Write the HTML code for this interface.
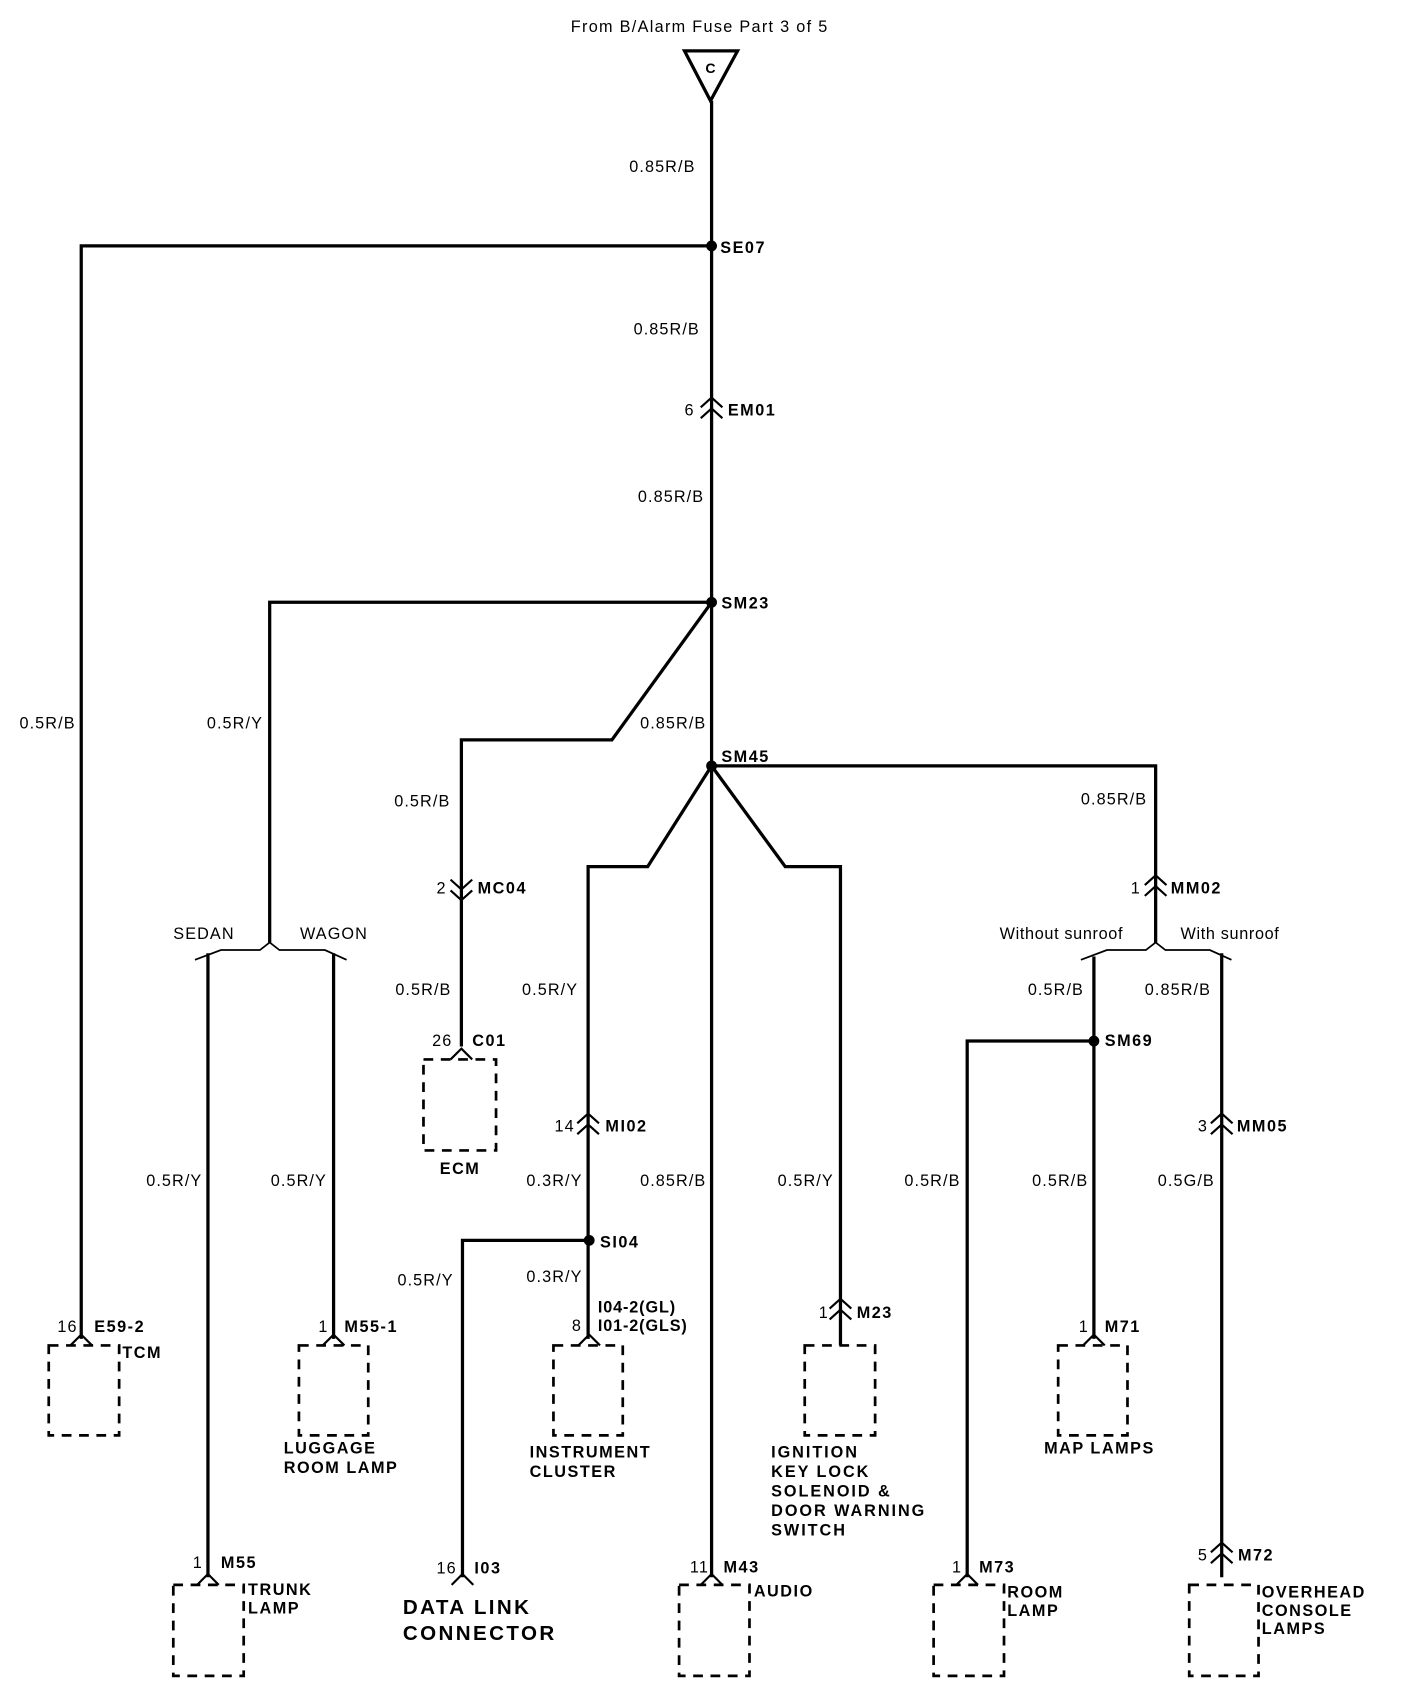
<!DOCTYPE html>
<html><head><meta charset="utf-8"><style>
html,body{margin:0;padding:0;background:#fff;width:1408px;height:1704px;overflow:hidden}
svg{display:block}
text{font-family:"Liberation Sans",sans-serif;font-size:15px;fill:#000;dominant-baseline:central;letter-spacing:1px}
.b{font-weight:bold;letter-spacing:1.4px}
.w{fill:none;stroke:#000;stroke-width:3}
.t{fill:none;stroke:#000;stroke-width:1.6}
.d{fill:none;stroke:#000;stroke-width:2.5;stroke-dasharray:9,7}
</style></head><body>
<svg width="1408" height="1704" viewBox="0 0 1300 1573" preserveAspectRatio="none" xmlns="http://www.w3.org/2000/svg">
<text x="527" y="25" style="font-size:15px;letter-spacing:1.2px">From B/Alarm Fuse  Part 3 of 5</text>
<polygon points="632,47 681,47 656,93" fill="none" stroke="#000" stroke-width="3"/>
<text x="656" y="63" class="b" text-anchor="middle" style="font-size:13px;letter-spacing:0">C</text>

<path class="w" d="M657 93 V1456"/>
<path class="w" d="M657 227 H75 V1236"/>
<path class="w" d="M657 556 H249 V870"/>
<path class="w" d="M657 556 L565 683 H426 V966"/>
<path class="w" d="M657 707 H1067 V870"/>
<path class="w" d="M657 707 L598 800 H543 V1236"/>
<path class="w" d="M657 707 L725 800 H776 V1242"/>
<path class="t" d="M249 870 L240 877 H204 L180 886 M249 870 L258 877 H300 L320 886"/>
<path class="w" d="M192 880 V1456 M308 880 V1236"/>
<path class="t" d="M1067 870 L1058 877 H1022 L998 886 M1067 870 L1076 877 H1117 L1137 886"/>
<path class="w" d="M1010 883 V1236 M1128 880 V1456"/>
<path class="w" d="M544 1145 H427 V1456"/>
<path class="w" d="M1010 961 H893 V1456"/>

<g fill="#000"><circle cx="657" cy="227" r="5"/><circle cx="657" cy="556" r="5"/><circle cx="657" cy="707" r="5"/><circle cx="544" cy="1145" r="5"/><circle cx="1010" cy="961" r="5"/></g>

<g fill="none" stroke="#000" stroke-width="2">
<path d="M647 376 L657 367 L667 376 M647 386 L657 377 L667 386"/>
<path d="M416 812 L426 821 L436 812 M416 822 L426 831 L436 822"/>
<path d="M533 1037 L543 1028 L553 1037 M533 1047 L543 1038 L553 1047"/>
<path d="M1057 817 L1067 808 L1077 817 M1057 827 L1067 818 L1077 827"/>
<path d="M1118 1037 L1128 1028 L1138 1037 M1118 1047 L1128 1038 L1138 1047"/>
<path d="M766 1208 L776 1199 L786 1208 M766 1218 L776 1209 L786 1218"/>
<path d="M1118 1433 L1128 1424 L1138 1433 M1118 1443 L1128 1434 L1138 1443"/>
</g>
<g fill="none" stroke="#000" stroke-width="2">
<path d="M65 1242 L75 1232 L85 1242"/>
<path d="M298 1242 L308 1232 L318 1242"/>
<path d="M534 1242 L544 1232 L554 1242"/>
<path d="M1000 1242 L1010 1232 L1020 1242"/>
<path d="M416 978 L426 968 L436 978"/>
<path d="M182 1463 L192 1453 L202 1463"/>
<path d="M417 1463 L427 1453 L437 1463"/>
<path d="M647 1463 L657 1453 L667 1463"/>
<path d="M883 1463 L893 1453 L903 1463"/>
</g>

<rect class="d" x="45" y="1242" width="65" height="83"/>
<rect class="d" x="276" y="1242" width="64" height="83"/>
<rect class="d" x="511" y="1242" width="64" height="83"/>
<rect class="d" x="743" y="1242" width="65" height="83"/>
<rect class="d" x="977" y="1242" width="64" height="83"/>
<rect class="d" x="391" y="978" width="67" height="84"/>
<rect class="d" x="160" y="1463" width="65" height="84"/>
<rect class="d" x="627" y="1463" width="65" height="84"/>
<rect class="d" x="862" y="1463" width="65" height="84"/>
<rect class="d" x="1098" y="1463" width="64" height="84"/>

<g>
<text x="581" y="154">0.85R/B</text>
<text x="585" y="304">0.85R/B</text>
<text x="589" y="459">0.85R/B</text>
<text x="18" y="668">0.5R/B</text>
<text x="191" y="668">0.5R/Y</text>
<text x="591" y="668">0.85R/B</text>
<text x="364" y="740">0.5R/B</text>
<text x="998" y="738">0.85R/B</text>
<text x="365" y="914">0.5R/B</text>
<text x="482" y="914">0.5R/Y</text>
<text x="949" y="914">0.5R/B</text>
<text x="1057" y="914">0.85R/B</text>
<text x="135" y="1090">0.5R/Y</text>
<text x="250" y="1090">0.5R/Y</text>
<text x="486" y="1090">0.3R/Y</text>
<text x="591" y="1090">0.85R/B</text>
<text x="718" y="1090">0.5R/Y</text>
<text x="835" y="1090">0.5R/B</text>
<text x="953" y="1090">0.5R/B</text>
<text x="1069" y="1090">0.5G/B</text>
<text x="367" y="1182">0.5R/Y</text>
<text x="486" y="1179">0.3R/Y</text>
<text x="160" y="862">SEDAN</text>
<text x="277" y="862">WAGON</text>
<text x="923" y="862" style="letter-spacing:0.6px">Without sunroof</text>
<text x="1090" y="862" style="letter-spacing:0.6px">With sunroof</text>
</g>

<g>
<text x="665" y="229" class="b">SE07</text>
<text x="666" y="557" class="b">SM23</text>
<text x="666" y="699" class="b">SM45</text>
<text x="554" y="1147" class="b">SI04</text>
<text x="1020" y="961" class="b">SM69</text>
<text x="672" y="379" class="b">EM01</text>
<text x="441" y="820" class="b">MC04</text>
<text x="559" y="1040" class="b">MI02</text>
<text x="1081" y="820" class="b">MM02</text>
<text x="1142" y="1040" class="b">MM05</text>
<text x="436" y="961" class="b">C01</text>
<text x="552" y="1207" class="b" style="letter-spacing:0.8px">I04-2(GL)</text>
<text x="552" y="1224" class="b" style="letter-spacing:0.8px">I01-2(GLS)</text>
<text x="791" y="1212" class="b">M23</text>
<text x="87" y="1225" class="b">E59-2</text>
<text x="318" y="1225" class="b">M55-1</text>
<text x="1020" y="1225" class="b">M71</text>
<text x="204" y="1443" class="b">M55</text>
<text x="438" y="1448" class="b">I03</text>
<text x="668" y="1447" class="b">M43</text>
<text x="904" y="1447" class="b">M73</text>
<text x="1143" y="1436" class="b">M72</text>
</g>
<text x="632" y="379">6</text>
<text x="403" y="820">2</text>
<text x="512" y="1040">14</text>
<text x="1044" y="820">1</text>
<text x="1106" y="1040">3</text>
<text x="399" y="961">26</text>
<text x="528" y="1224">8</text>
<text x="756" y="1212">1</text>
<text x="53" y="1225">16</text>
<text x="294" y="1225">1</text>
<text x="996" y="1225">1</text>
<text x="178" y="1443">1</text>
<text x="403" y="1448">16</text>
<text x="637" y="1447">11</text>
<text x="879" y="1447">1</text>
<text x="1106" y="1436">5</text>

<g>
<text x="406" y="1079" class="b">ECM</text>
<text x="113" y="1249" class="b">TCM</text>
<text x="262" y="1337" class="b">LUGGAGE</text>
<text x="262" y="1355" class="b">ROOM LAMP</text>
<text x="489" y="1341" class="b">INSTRUMENT</text>
<text x="489" y="1359" class="b">CLUSTER</text>
<text x="712" y="1341" class="b" style="letter-spacing:1.8px">IGNITION</text>
<text x="712" y="1359" class="b" style="letter-spacing:1.8px">KEY LOCK</text>
<text x="712" y="1377" class="b" style="letter-spacing:1.8px">SOLENOID &amp;</text>
<text x="712" y="1395" class="b" style="letter-spacing:1.8px">DOOR WARNING</text>
<text x="712" y="1413" class="b" style="letter-spacing:1.8px">SWITCH</text>
<text x="964" y="1337" class="b">MAP LAMPS</text>
<text x="229" y="1468" class="b">TRUNK</text>
<text x="229" y="1485" class="b">LAMP</text>
<text x="372" y="1484" class="b" style="font-size:19px;letter-spacing:2.2px">DATA  LINK</text>
<text x="372" y="1508" class="b" style="font-size:19px;letter-spacing:2.2px">CONNECTOR</text>
<text x="696" y="1469" class="b">AUDIO</text>
<text x="930" y="1470" class="b">ROOM</text>
<text x="930" y="1487" class="b">LAMP</text>
<text x="1165" y="1470" class="b">OVERHEAD</text>
<text x="1165" y="1487" class="b">CONSOLE</text>
<text x="1165" y="1504" class="b">LAMPS</text>
</g>
</svg>
</body></html>
